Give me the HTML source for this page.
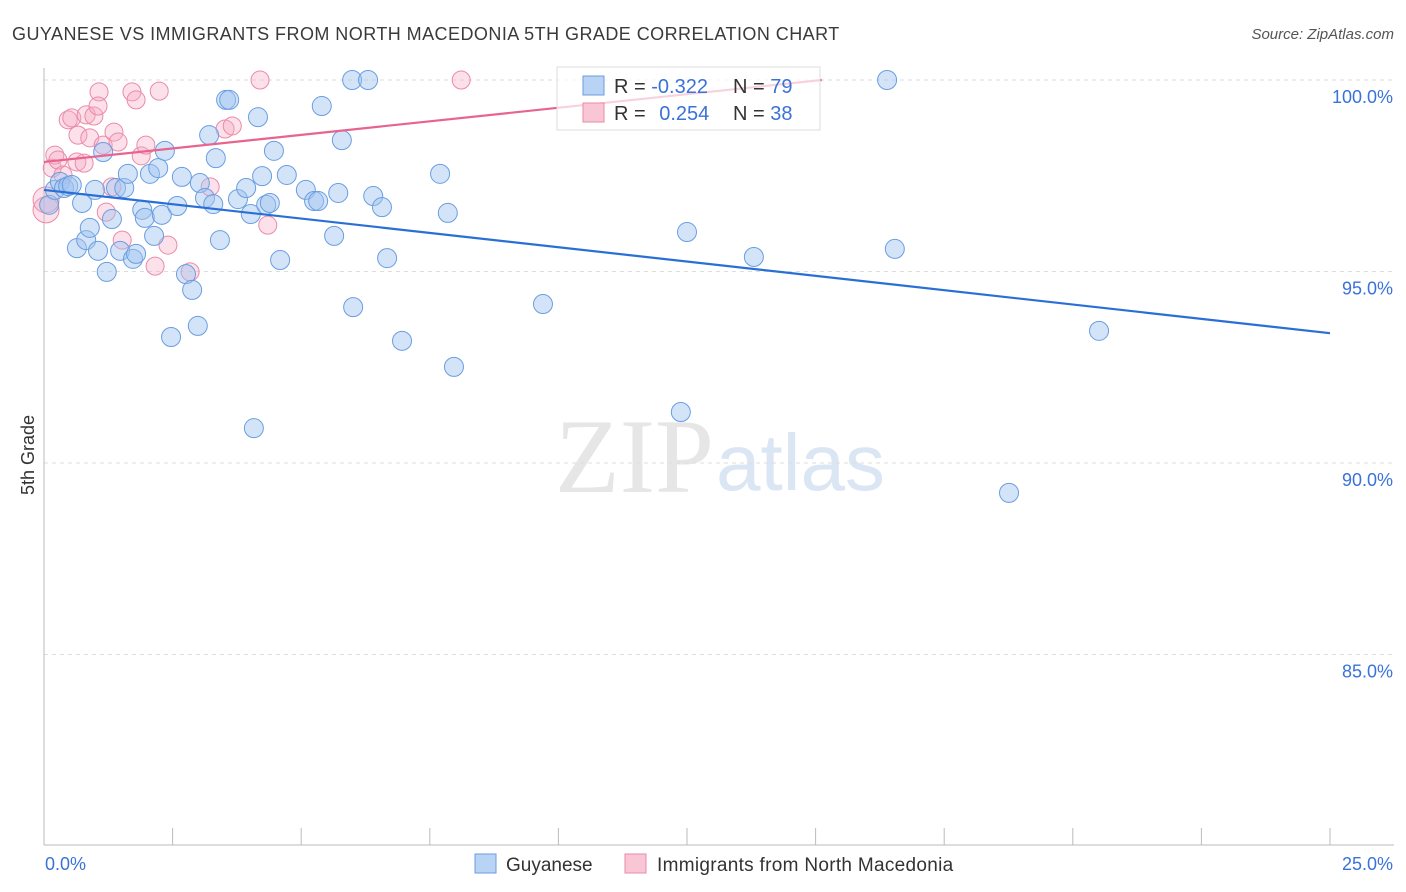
<!DOCTYPE html>
<html><head><meta charset="utf-8">
<style>
body{margin:0;background:#fff;font-family:"Liberation Sans",sans-serif;}
#wrap{position:relative;width:1406px;height:892px;overflow:hidden;}
</style></head>
<body>
<div id="wrap">
<svg id="chart" width="1406" height="892" xmlns="http://www.w3.org/2000/svg">
<text x="12" y="40" font-size="18" fill="#3a3a3a" letter-spacing="0.45">GUYANESE VS IMMIGRANTS FROM NORTH MACEDONIA 5TH GRADE CORRELATION CHART</text>
<text x="1394" y="39" font-size="15" fill="#555" text-anchor="end" font-style="italic">Source: ZipAtlas.com</text>
<text x="714" y="492" font-size="106" fill="#e6e6e6" text-anchor="end" font-family="Liberation Serif">ZIP</text>
<text x="716" y="490" font-size="80" fill="#dbe6f4">atlas</text>
<text transform="translate(34,455) rotate(-90)" font-size="18" fill="#333" text-anchor="middle">5th Grade</text>
<g id="grid"></g><g id="axes"></g><g id="pts"></g><g id="lines"></g>
<g>
<rect x="557" y="67" width="263" height="63" fill="#fff" fill-opacity="0.7" stroke="#ddd"/>
<rect x="583" y="76" width="21" height="19" fill="#b9d3f5" stroke="#6a9ee0"/>
<rect x="583" y="103" width="21" height="19" fill="#f9c6d6" stroke="#eb8aa8"/>
<text x="614" y="93" font-size="20" fill="#333">R = <tspan fill="#3a72d8">-0.322</tspan></text>
<text x="733" y="93" font-size="20" fill="#333">N = <tspan fill="#3a72d8">79</tspan></text>
<text x="614" y="120" font-size="20" fill="#333">R = <tspan fill="#3a72d8" dx="8">0.254</tspan></text>
<text x="733" y="120" font-size="20" fill="#333">N = <tspan fill="#3a72d8">38</tspan></text>
</g>
<g>
<rect x="475" y="854" width="21" height="19" fill="#b9d3f5" stroke="#6a9ee0"/>
<text x="506" y="871" font-size="19" fill="#333">Guyanese</text>
<rect x="625" y="854" width="21" height="19" fill="#f9c6d6" stroke="#eb8aa8"/>
<text x="657" y="871" font-size="19" fill="#333" letter-spacing="0.3">Immigrants from North Macedonia</text>
</g>
</svg>
</div>
<script>
const blueX=[0.10,0.21,0.31,0.39,0.47,0.54,0.74,0.64,0.82,0.89,0.99,1.05,1.15,1.22,1.32,1.40,1.48,1.56,1.63,1.73,1.79,1.91,1.96,2.06,2.14,2.22,2.29,2.35,2.47,2.59,2.68,2.76,2.88,2.99,3.03,3.13,3.21,3.29,3.34,3.42,3.54,3.60,3.77,3.93,4.02,4.08,4.16,4.24,4.32,4.39,4.47,4.59,4.72,5.09,5.25,5.33,5.40,5.64,5.72,5.79,5.99,6.01,6.30,6.40,6.57,6.67,6.96,7.70,7.85,7.97,9.70,12.38,12.50,13.80,16.39,16.54,18.76,20.51];
const blueY=[96.74,97.13,97.34,97.18,97.23,97.26,96.79,95.61,95.82,96.14,97.13,95.54,98.12,94.99,96.37,97.18,95.54,97.18,97.55,95.33,95.46,96.61,96.40,97.55,95.93,97.70,96.48,98.15,93.29,96.71,97.47,94.93,94.52,93.58,97.31,96.92,98.56,96.76,97.96,95.82,99.48,99.48,96.89,97.18,96.50,90.91,99.03,97.49,96.74,96.79,98.15,95.30,97.52,97.13,96.84,96.84,99.32,95.93,97.05,98.43,100.0,94.07,100.0,96.97,96.68,95.35,93.19,97.55,96.53,92.51,94.15,91.33,96.03,95.38,100.0,95.59,89.22,93.45];
const pinkX=[0.04,0.04,0.16,0.21,0.27,0.37,0.47,0.54,0.66,0.64,0.78,0.82,0.89,0.97,1.07,1.05,1.15,1.21,1.32,1.36,1.44,1.52,1.71,1.79,1.89,1.98,2.16,2.24,2.41,2.84,3.23,3.52,3.66,4.20,4.35,8.11];
const pinkY=[96.61,96.87,97.70,98.04,97.91,97.52,98.96,99.01,98.56,97.86,97.83,99.09,98.49,99.06,99.69,99.32,98.30,96.55,97.21,98.64,98.38,95.82,99.69,99.48,98.02,98.30,95.14,99.71,95.69,94.99,97.21,98.72,98.80,100.0,96.21,100.0];
const yTicks=[100,95,90,85];
const xTickLabels=["0.0%","25.0%"];
const blueTrend=[97.13,93.39];
const pinkTrend=[97.86,100.0,15.12];
const NS="http://www.w3.org/2000/svg";
const X0=44,X1=1330,Y100=80,PPU=38.3;
const sx=v=>X0+(v/25)*(X1-X0);
const sy=v=>Y100+(100-v)*PPU;
function mk(tag,attrs,parent){const e=document.createElementNS(NS,tag);for(const k in attrs)e.setAttribute(k,attrs[k]);document.getElementById(parent).appendChild(e);return e;}
yTicks.forEach(t=>{
  const l=mk('line',{x1:X0,x2:1394,y1:sy(t),y2:sy(t),stroke:'#ddd','stroke-dasharray':'4,4'},'grid');
  
  
  const tx=mk('text',{x:1393,y:sy(t)+23,'font-size':18,fill:'#3a72d8','text-anchor':'end'},'grid');
  tx.textContent=t.toFixed(1)+'%';
  
  
});
const ax=mk('line',{x1:X0,x2:X0,y1:68,y2:845,stroke:'#bbb'},'axes');


const bx=mk('line',{x1:X0,x2:1394,y1:845,y2:845,stroke:'#bbb'},'axes');


for(let i=0;i<=10;i++){
  const t=mk('line',{x1:sx(i*2.5),x2:sx(i*2.5),y1:828,y2:845,stroke:'#bbb'},'axes');
  
  
}
const xl0=mk('text',{x:45,y:870,'font-size':18,fill:'#3a72d8'},'axes');
xl0.textContent=xTickLabels[0];


const xl1=mk('text',{x:1393,y:870,'font-size':18,fill:'#3a72d8','text-anchor':'end'},'axes');
xl1.textContent=xTickLabels[1];


pinkX.forEach((x,i)=>{
  const r=(i<2)?13:9;
  const c=mk('circle',{cx:sx(x),cy:sy(pinkY[i]),r:r,fill:'rgba(245,170,195,0.35)',stroke:'#eb8aa8','stroke-width':1},'pts');
  
  
});
blueX.forEach((x,i)=>{
  const c=mk('circle',{cx:sx(x),cy:sy(blueY[i]),r:9.5,fill:'rgba(160,196,240,0.45)',stroke:'#6a9ee0','stroke-width':1},'pts');
  
  
});
const bl=mk('line',{x1:sx(0),y1:sy(blueTrend[0]),x2:sx(25),y2:sy(blueTrend[1]),stroke:'#2a6fd6','stroke-width':2.2},'lines');


const pl=mk('line',{x1:sx(0),y1:sy(pinkTrend[0]),x2:sx(pinkTrend[2]),y2:sy(pinkTrend[1]),stroke:'#e8648f','stroke-width':2.2},'lines');


</script>
</body></html>
